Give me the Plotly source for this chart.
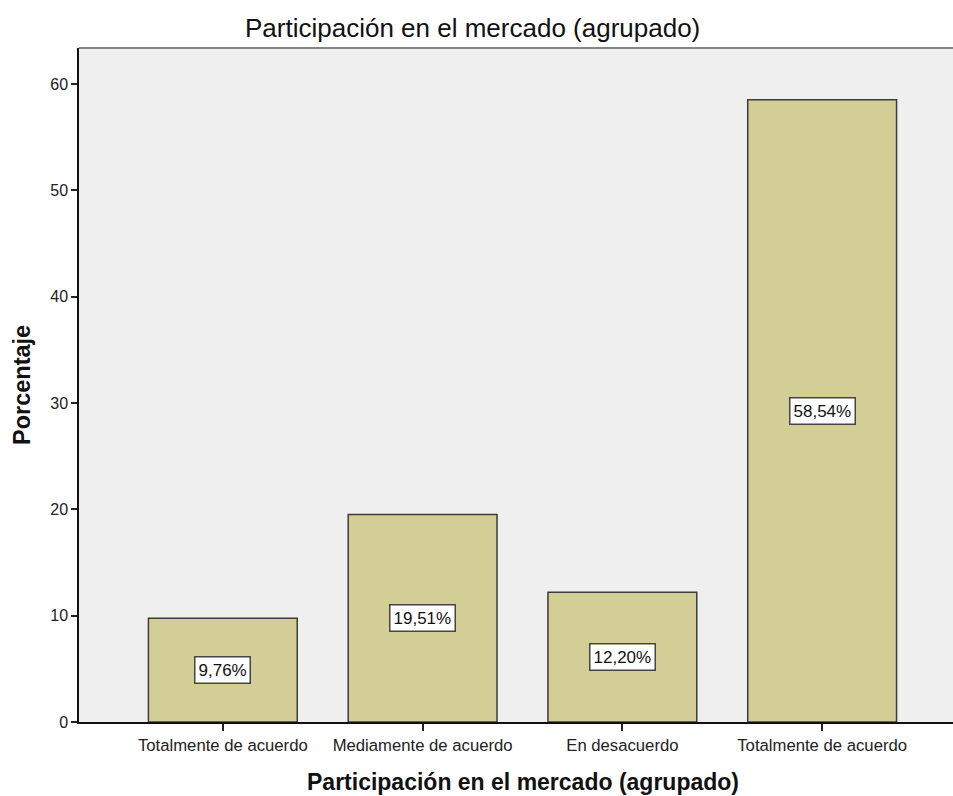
import plotly.graph_objects as go

categories = ["Totalmente de acuerdo", "Mediamente de acuerdo", "En desacuerdo", "Totalmente de acuerdo"]
values = [9.76, 19.51, 12.20, 58.54]
labels = ["9,76%", "19,51%", "12,20%", "58,54%"]
yticks = [0, 10, 20, 30, 40, 50, 60]

xpos = list(range(len(categories)))
FONT = "Liberation Sans, Arial, sans-serif"

fig = go.Figure()
fig.add_trace(go.Bar(
    x=xpos, y=values, width=0.745,
    marker=dict(color="#d2ce96", line=dict(color="#3c3c3c", width=1.5)),
    hoverinfo="skip",
))

for xi, v, lab in zip(xpos, values, labels):
    fig.add_annotation(x=xi, y=v / 2, text=lab, showarrow=False,
                       font=dict(family=FONT, size=17, color="#111"),
                       bgcolor="white", bordercolor="#444", borderwidth=1.5, borderpad=3)

# titles
fig.add_annotation(xref="paper", yref="paper", x=(472 - 79) / 874, y=1 + (48 - 28) / 674,
                   text="Participación en el mercado (agrupado)", showarrow=False,
                   xanchor="center", yanchor="middle",
                   font=dict(family=FONT, size=26, color="#111"))
fig.add_annotation(xref="paper", yref="paper", x=(523 - 79) / 874, y=-(782 - 722) / 674,
                   text="<b>Participación en el mercado (agrupado)</b>", showarrow=False,
                   xanchor="center", yanchor="middle",
                   font=dict(family=FONT, size=23, color="#111"))
fig.add_annotation(xref="paper", yref="paper", x=(22 - 79) / 874, y=(722 - 385) / 674,
                   text="<b>Porcentaje</b>", showarrow=False, textangle=-90,
                   xanchor="center", yanchor="middle",
                   font=dict(family=FONT, size=23.5, color="#111"))

fig.add_shape(type="line", xref="paper", yref="paper", x0=0, x1=1, y0=1, y1=1,
              line=dict(color="#858585", width=2))

fig.update_layout(
    width=953, height=796,
    margin=dict(l=79, r=0, t=48, b=74),
    paper_bgcolor="white", plot_bgcolor="#efefef",
    showlegend=False,
    font=dict(family=FONT, color="#222"),
    xaxis=dict(range=[-0.72, 3.655], tickmode="array", tickvals=xpos, ticktext=categories,
               showgrid=False, zeroline=False, showline=True, linecolor="#111", linewidth=1.5,
               ticks="outside", ticklen=7, tickwidth=1.5, tickcolor="#222",
               tickfont=dict(family=FONT, size=16.7, color="#222")),
    yaxis=dict(range=[0, 63.4], tickmode="array", tickvals=yticks,
               showgrid=False, zeroline=False, showline=True, linecolor="#111", linewidth=1.5,
               ticks="outside", ticklen=6, tickwidth=1.5, tickcolor="#222",
               tickfont=dict(family=FONT, size=16, color="#222")),
)

fig.write_html("out.html", config={"displayModeBar": False},
               post_script="document.body.style.margin='0';document.body.style.padding='0';")
